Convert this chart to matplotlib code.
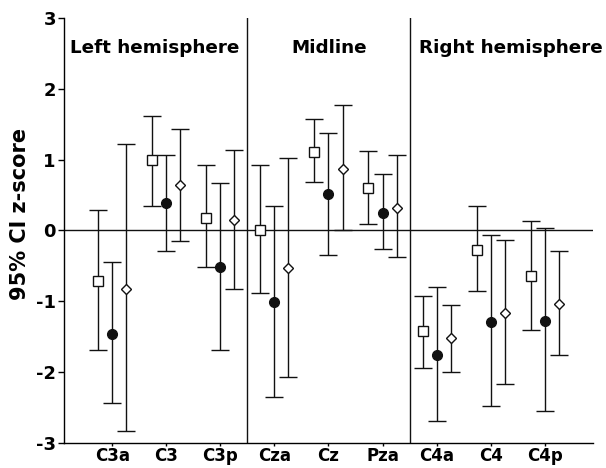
import numpy as np
import matplotlib
matplotlib.use('Agg')
import matplotlib.pyplot as plt

plt.rcParams['font.family'] = ['DejaVu Sans']

sites = ['C3a', 'C3', 'C3p', 'Cza', 'Cz', 'Pza', 'C4a', 'C4', 'C4p']
regions = ['Left hemisphere', 'Midline', 'Right hemisphere']

# mean, lower CI, upper CI for each of the three conditions
sq_mean = [-0.71, 0.99, 0.18, 0.00, 1.10, 0.60, -1.42, -0.28, -0.64]
sq_low = [-1.68, 0.35, -0.51, -0.88, 0.69, 0.09, -1.94, -0.86, -1.40]
sq_high = [0.29, 1.61, 0.93, 0.93, 1.57, 1.12, -0.92, 0.35, 0.14]

dot_mean = [-1.46, 0.39, -0.52, -1.01, 0.51, 0.24, -1.76, -1.29, -1.28]
dot_low = [-2.44, -0.29, -1.68, -2.35, -0.34, -0.26, -2.69, -2.48, -2.54]
dot_high = [-0.44, 1.07, 0.67, 0.35, 1.38, 0.79, -0.79, -0.07, 0.03]

dia_mean = [-0.82, 0.64, 0.15, -0.53, 0.87, 0.32, -1.51, -1.17, -1.04]
dia_low = [-2.83, -0.15, -0.82, -2.06, 0.01, -0.38, -1.99, -2.17, -1.76]
dia_high = [1.22, 1.43, 1.14, 1.02, 1.77, 1.06, -1.05, -0.14, -0.29]

fig = plt.figure(figsize=(6.06, 4.68), dpi=100)
ax = fig.add_axes([0.106, 0.053, 0.873, 0.909])

x = np.arange(1, len(sites) + 1)
off = 0.26


def draw(xs, mean, low, high, marker, face, ms):
    mean = np.array(mean)
    err = [mean - np.array(low), np.array(high) - mean]
    ax.errorbar(xs, mean, yerr=err, fmt='none', ecolor='#111111',
                elinewidth=1.0, capsize=6.5, capthick=1.0, zorder=2)
    ax.plot(xs, mean, linestyle='none', marker=marker, markersize=ms,
            markerfacecolor=face, markeredgecolor='#111111',
            markeredgewidth=1.0, zorder=3)


draw(x - off, sq_mean, sq_low, sq_high, 's', 'white', 6.5)
draw(x, dot_mean, dot_low, dot_high, 'o', '#111111', 7)
draw(x + off, dia_mean, dia_low, dia_high, 'D', 'white', 5.5)

ax.axhline(0, color='#111111', linewidth=1.0, zorder=1)
for xd in [3.5, 6.5]:
    ax.axvline(xd, color='#111111', linewidth=1.0, zorder=1)

ax.set_xlim(0.11, 9.9)
ax.set_ylim(-3, 3)
ax.set_xticks(x)
ax.set_xticklabels(sites, fontsize=12, fontweight='bold')
ax.set_yticks([-3, -2, -1, 0, 1, 2, 3])
ax.set_yticklabels(['-3', '-2', '-1', '0', '1', '2', '3'],
                   fontsize=13, fontweight='bold')
ax.tick_params(axis='x', length=2, width=1, pad=1)
ax.tick_params(axis='y', length=4, width=1, pad=2)
ax.set_ylabel('95% CI z-score', fontsize=15, fontweight='bold')
ax.yaxis.set_label_coords(-0.065, 0.54)

ax.spines['top'].set_visible(False)
ax.spines['right'].set_visible(False)
for s in ['left', 'bottom']:
    ax.spines[s].set_linewidth(1.0)

label_x = [1.78, 5.02, 8.37]
for name, cx in zip(regions, label_x):
    ax.text(cx, 2.58, name, ha='center', va='center', fontsize=13.2,
            fontweight='bold')

fig.savefig('out.png', dpi=100)
